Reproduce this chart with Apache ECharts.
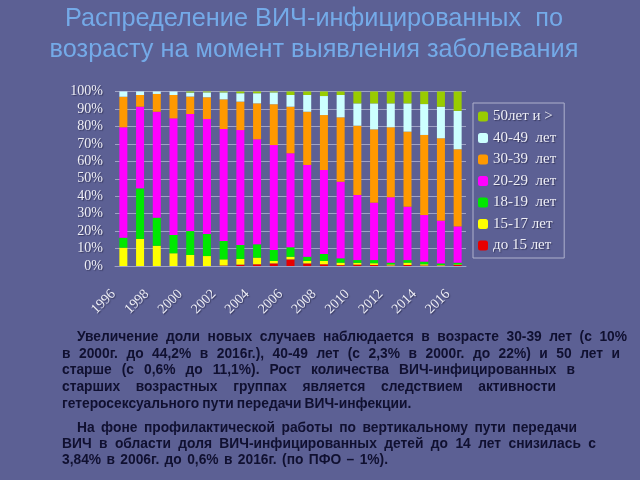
<!DOCTYPE html>
<html>
<head>
<meta charset="utf-8">
<script src="https://cdn.jsdelivr.net/npm/echarts@6/dist/echarts.min.js"></script>
<style>
  html, body { margin: 0; padding: 0; background: #5c6094; }
  #chart { width: 640px; height: 480px; }
</style>
</head>
<body>
<div id="chart"></div>
<script>
// years 1996..2016, shares in %
const years = ['1996', '1997', '1998', '1999', '2000', '2001', '2002', '2003', '2004', '2005', '2006',
  '2007', '2008', '2009', '2010', '2011', '2012', '2013', '2014', '2015', '2016']

const under15 = [0, 0, 0, 0, 0, 0, 0.3, 0.8, 1, 1.5, 3.8, 1.5, 1, 0.5, 0.8, 0.6, 0.3, 0.6, 0.3, 0.2, 0.6]
const age15_17 = [10.5, 15.5, 11.6, 7.3, 6.3, 5.7, 3.5, 3.2, 3.8, 1.4, 1.5, 1.4, 1.9, 1.4, 1.0, 1.0, 0.6, 1.3, 0.7, 0.3, 0.3]
const age18_19 = [5.7, 29, 16.1, 10.5, 13.7, 12.6, 10.5, 8, 7.6, 6.3, 5.5, 2.4, 4, 2.5, 1.6, 1.8, 1.0, 1.5, 1.5, 1.0, 1.0]
const age20_29 = [63.3, 46.8, 60.7, 66.8, 67.1, 65.9, 64.2, 65.9, 60.2, 60.1, 53.8, 52.6, 48.1, 43.9, 37.3, 32.9, 37.5, 30.6, 26.7, 24.5, 20.8]
const age30_39 = [17.5, 6.7, 10.2, 13.4, 10, 12.5, 17, 16.3, 20.6, 23.4, 26.7, 30.5, 31.5, 36.9, 39.7, 42, 40.1, 43, 45.9, 47.2, 44.2]
const age40_49 = [3, 2, 1.4, 2, 2.3, 2.8, 4, 4.8, 5.8, 6.8, 6.7, 9.6, 10.9, 12.8, 12.8, 14.9, 13.7, 16.2, 17.7, 18.1, 22]
const age50plus = [0, 0, 0, 0, 0.6, 0.5, 0.5, 1, 1, 0.5, 2, 2, 2.6, 2, 6.8, 6.8, 6.8, 6.8, 7.2, 8.7, 11.1]

const names = ['до 15 лет', '15-17 лет', '18-19  лет', '20-29  лет', '30-39  лет', '40-49  лет', '50лет и >']
const colors = ['#e80000', '#ffff00', '#00e800', '#ff00ff', '#ff9900', '#ccffff', '#99cc00']
const values = [under15, age15_17, age18_19, age20_29, age30_39, age40_49, age50plus]

const para1 = [
  'Увеличение доли новых случаев наблюдается в возрасте 30-39 лет (с 10%',
  'в 2000г. до 44,2% в 2016г.), 40-49 лет (с 2,3% в 2000г. до 22%) и 50 лет и',
  'старше (с 0,6% до 11,1%). Рост количества ВИЧ-инфицированных в',
  'старших возрастных группах является следствием активности',
  'гетеросексуального пути передачи ВИЧ-инфекции.'
]
const para2 = [
  'На фоне профилактической работы по вертикальному пути передачи',
  'ВИЧ в области доля ВИЧ-инфицированных детей до 14 лет снизилась с',
  '3,84% в 2006г. до 0,6% в 2016г. (по ПФО – 1%).'
]
// where each line ends in the picture
const para1Ends = [627, 620, 575, 556, 402]
const para2Ends = [577, 596, 388]

const bodyFont = 'bold 13.8px "Liberation Sans"'
const measureCtx = document.createElement('canvas').getContext('2d')
measureCtx.font = bodyFont

// one text element per word, spaces widened so the line ends where it does in the picture
function paragraph(lines, ends, yFirst, lh) {
  const left = 62, indent = 15
  const out = []
  lines.forEach((line, li) => {
    const words = line.split(' ')
    const start = left + (li === 0 ? indent : 0)
    const widths = words.map(w => measureCtx.measureText(w).width)
    const total = widths.reduce((a, b) => a + b, 0)
    const space = measureCtx.measureText(' ').width
    const gap = Math.max(space * 0.8, (ends[li] - start - total) / (words.length - 1))
    let x = start
    words.forEach((w, i) => {
      out.push({
        type: 'text',
        x: x,
        y: yFirst + li * lh,
        style: { text: w, font: bodyFont, fill: '#101030', verticalAlign: 'middle' }
      })
      x += widths[i] + gap
    })
  })
  return out
}

const chart = echarts.init(document.getElementById('chart'))

const serifLabel = {
  fontFamily: 'Liberation Serif',
  fontSize: 14,
  color: '#eeeef6',
  textShadowColor: 'rgba(30,30,60,0.6)',
  textShadowOffsetX: 1,
  textShadowOffsetY: 1,
  textShadowBlur: 1
}

chart.setOption({
  backgroundColor: '#5c6094',
  animation: false,
  title: {
    text: 'Распределение ВИЧ-инфицированных  по\nвозрасту на момент выявления заболевания',
    left: 309,
    textAlign: 'center',
    top: -1,
    textStyle: {
      fontFamily: 'Liberation Sans',
      fontWeight: 'normal',
      fontSize: 25.3,
      lineHeight: 31,
      color: '#74aae8'
    }
  },
  legend: {
    orient: 'vertical',
    left: 473,
    top: 103,
    padding: [6, 8, 5, 5],
    itemWidth: 10,
    itemHeight: 10,
    itemGap: 6.5,
    borderColor: '#aeb0cc',
    borderWidth: 1,
    data: names.slice().reverse(),
    textStyle: Object.assign({}, serifLabel, { fontSize: 15 })
  },
  grid: {
    left: 115,
    right: 174,
    top: 91.5,
    bottom: 214
  },
  xAxis: {
    type: 'category',
    data: years,
    axisLine: { lineStyle: { color: '#9fa2c6' } },
    axisTick: { interval: 1, lineStyle: { color: '#3c3f66' } },
    axisLabel: Object.assign({}, serifLabel, { interval: 1, rotate: 45, margin: 16, padding: [0, 14, 0, 0] })
  },
  yAxis: {
    type: 'value',
    min: 0,
    max: 100,
    interval: 10,
    axisLine: { show: false },
    axisTick: { show: false },
    splitLine: { lineStyle: { color: 'rgba(215,216,236,0.55)' } },
    axisLabel: Object.assign({}, serifLabel, { formatter: '{value}%', margin: 12 })
  },
  series: names.map((n, i) => ({
    name: n,
    type: 'bar',
    stack: 'all',
    barWidth: 8,
    itemStyle: { color: colors[i] },
    data: values[i]
  })),
  graphic: paragraph(para1, para1Ends, 337, 16.75).concat(paragraph(para2, para2Ends, 428, 16.3))
})
</script>
</body>
</html>
